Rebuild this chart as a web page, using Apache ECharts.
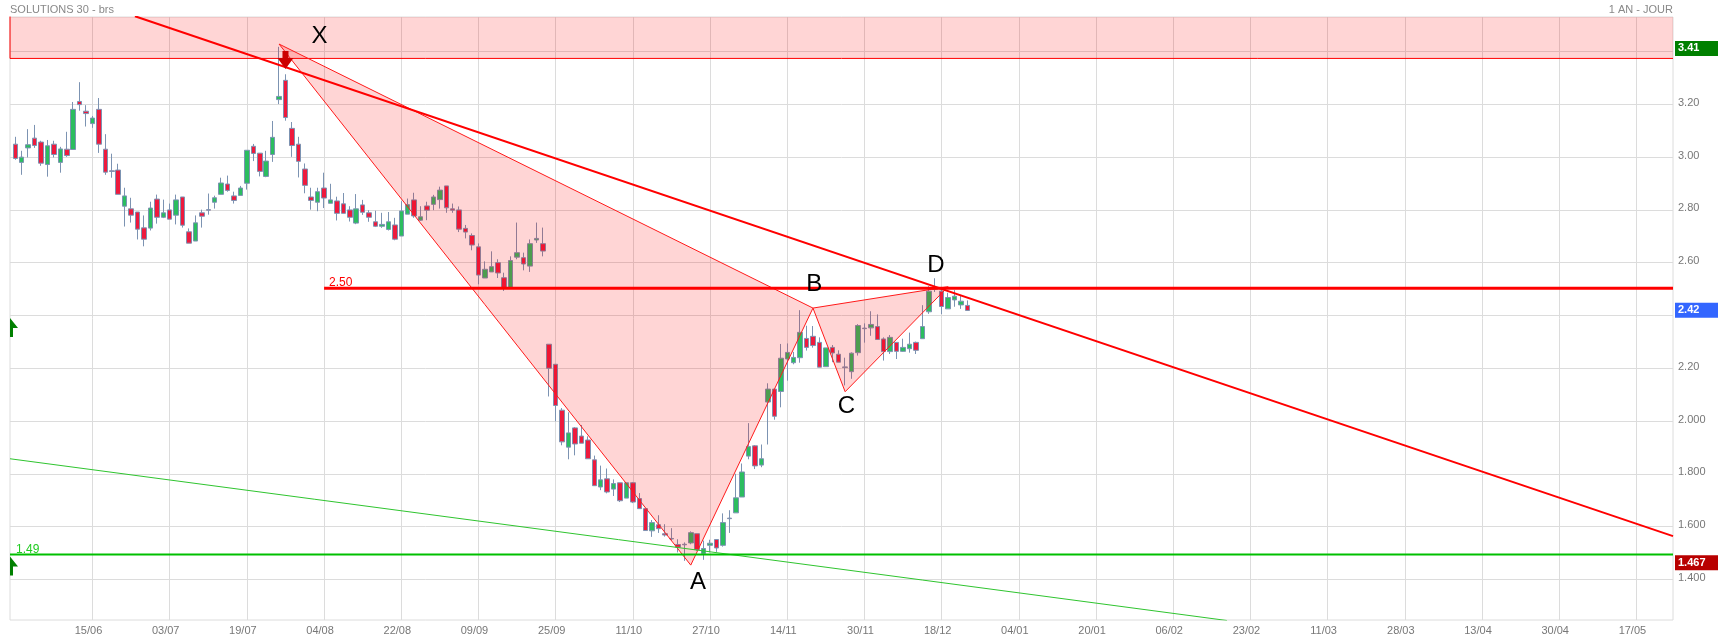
<!DOCTYPE html>
<html>
<head>
<meta charset="utf-8">
<style>html,body{margin:0;padding:0;background:#fff}#c{width:1718px;height:641px}</style>
<script src="https://cdn.jsdelivr.net/npm/echarts@6/dist/echarts.min.js"></script>
</head>
<body>
<div id="c"></div>
<script>
const opens = [3.049,2.980,3.035,3.072,3.057,2.972,3.049,2.980,3.030,3.029,
3.211,3.174,3.127,3.181,3.030,2.948,2.951,2.814,2.804,2.792,
2.732,2.731,2.841,2.772,2.800,2.780,2.849,2.717,2.682,2.789,
2.801,2.829,2.859,2.898,2.853,2.855,2.901,3.041,3.015,2.927,
3.010,3.218,3.291,3.109,3.049,2.955,2.849,2.829,2.883,2.825,
2.834,2.823,2.800,2.750,2.819,2.789,2.755,2.738,2.726,2.743,
2.701,2.784,2.838,2.761,2.815,2.821,2.839,2.891,2.804,2.800,
2.730,2.703,2.660,2.542,2.565,2.600,2.543,2.506,2.621,2.619,
2.587,2.686,2.672,2.291,2.215,2.041,1.901,1.974,1.943,1.928,
1.853,1.750,1.781,1.742,1.766,1.708,1.766,1.706,1.668,1.584,
1.607,1.573,1.555,1.532,1.533,1.538,1.573,1.498,1.529,1.551,
1.529,1.632,1.652,1.712,1.867,1.906,1.833,2.072,2.121,2.112,
2.235,2.221,2.240,2.313,2.321,2.298,2.206,2.279,2.253,2.205,
2.187,2.259,2.352,2.353,2.358,2.311,2.263,2.298,2.264,2.274,
2.298,2.312,2.414,2.504,2.492,2.425,2.459,2.440,2.438];
const closes = [2.995,3.000,3.047,3.044,2.977,3.043,3.010,3.031,3.006,3.181,
3.199,3.165,3.148,3.049,2.943,2.946,2.859,2.853,2.780,2.727,
2.689,2.807,2.772,2.789,2.765,2.838,2.742,2.674,2.751,2.776,
2.799,2.846,2.902,2.874,2.836,2.883,3.026,3.014,2.946,2.985,
3.075,3.230,3.150,3.044,2.984,2.893,2.836,2.869,2.845,2.838,
2.787,2.787,2.772,2.804,2.791,2.772,2.738,2.745,2.755,2.689,
2.796,2.820,2.777,2.774,2.799,2.849,2.875,2.808,2.799,2.727,
2.716,2.667,2.553,2.575,2.585,2.561,2.506,2.608,2.638,2.595,
2.672,2.692,2.644,2.200,2.059,1.921,1.955,1.913,1.916,1.857,
1.755,1.777,1.731,1.763,1.698,1.766,1.693,1.668,1.585,1.615,
1.592,1.568,1.553,1.522,1.531,1.577,1.513,1.517,1.537,1.519,
1.615,1.630,1.709,1.807,1.903,1.830,1.857,2.121,2.018,2.238,
2.260,2.241,2.336,2.279,2.286,2.204,2.277,2.258,2.223,2.203,
2.257,2.362,2.350,2.366,2.309,2.263,2.317,2.264,2.279,2.291,
2.268,2.358,2.492,2.499,2.434,2.468,2.473,2.454,2.419];
const lows = [2.990,2.933,2.999,3.035,2.967,2.926,2.999,2.941,3.001,3.029,
3.176,3.116,3.111,3.016,2.933,2.922,2.859,2.737,2.752,2.688,
2.662,2.722,2.748,2.769,2.765,2.745,2.733,2.674,2.682,2.733,
2.782,2.805,2.859,2.869,2.824,2.855,2.877,2.985,2.927,2.924,
2.982,3.201,3.138,3.001,2.923,2.863,2.801,2.795,2.807,2.825,
2.760,2.787,2.756,2.746,2.781,2.755,2.735,2.732,2.722,2.685,
2.701,2.784,2.770,2.758,2.761,2.799,2.805,2.789,2.789,2.716,
2.692,2.647,2.518,2.542,2.565,2.542,2.493,2.506,2.613,2.571,
2.565,2.675,2.624,2.093,1.999,1.908,1.855,1.870,1.916,1.857,
1.755,1.738,1.726,1.716,1.693,1.708,1.689,1.668,1.585,1.561,
1.576,1.562,1.547,1.502,1.470,1.533,1.508,1.474,1.502,1.504,
1.524,1.576,1.652,1.712,1.855,1.818,1.825,1.911,2.005,2.052,
2.153,2.215,2.221,2.267,2.278,2.204,2.206,2.223,2.223,2.135,
2.160,2.248,2.297,2.323,2.307,2.229,2.254,2.235,2.262,2.259,
2.254,2.312,2.406,2.489,2.405,2.425,2.433,2.425,2.419];
const highs = [3.077,3.024,3.106,3.122,3.062,3.065,3.062,3.039,3.096,3.209,
3.284,3.197,3.156,3.224,3.087,3.013,2.975,2.884,2.846,2.792,
2.779,2.831,2.858,2.839,2.824,2.858,2.849,2.730,2.779,2.801,
2.862,2.854,2.922,2.930,2.869,2.891,3.026,3.050,3.015,3.024,
3.137,3.418,3.314,3.133,3.077,2.976,2.884,2.884,2.941,2.899,
2.850,2.864,2.814,2.860,2.838,2.799,2.797,2.789,2.792,2.770,
2.833,2.843,2.865,2.814,2.831,2.857,2.888,2.891,2.824,2.813,
2.743,2.711,2.673,2.605,2.643,2.613,2.562,2.624,2.752,2.638,
2.688,2.752,2.733,2.291,2.215,2.049,2.033,1.977,1.985,1.942,
1.869,1.831,1.820,1.779,1.766,1.766,1.769,1.727,1.668,1.625,
1.643,1.609,1.594,1.552,1.540,1.582,1.573,1.547,1.550,1.551,
1.650,1.662,1.800,1.839,1.992,1.909,1.911,2.143,2.121,2.292,
2.294,2.262,2.420,2.361,2.360,2.317,2.277,2.288,2.268,2.240,
2.260,2.367,2.370,2.416,2.404,2.317,2.326,2.298,2.312,2.335,
2.301,2.439,2.511,2.541,2.508,2.486,2.496,2.477,2.457];

const dateLabels = ['15/06','03/07','19/07','04/08','22/08','09/09','25/09','11/10','27/10','14/11','30/11','18/12','04/01','20/01','06/02','23/02','11/03','28/03','13/04','30/04','17/05'];
const dateBars = [12,24,36,48,60,72,84,96,108,120,132,144,156,168,180,192,204,216,228,240,252];
const priceTicks = [1.4,1.6,1.8,2.0,2.2,2.4,2.6,2.8,3.0,3.2,3.4];

const xMin = -0.824, xMax = 257.69, yMin = 1.246, yMax = 3.531;

// Pattern X-A-B-C-D, as [bar, price]
const ptX = [41, 3.4285], ptA = [105, 1.454], ptB = [124, 2.428], ptC = [129, 2.111], ptD = [145, 2.509];
const triangleXAB = [ptX, ptA, ptB];
const triangleBCD = [ptB, ptC, ptD];
const resistanceBand = [[xMin, 3.374], [xMax, 3.374], [xMax, 3.6], [xMin, 3.6]];
const resistanceEdge = [[xMin, 3.6], [xMin, 3.374], [xMax, 3.374]];
const mainTrend = [[18.6, 3.534], [xMax, 1.564]];
const greenTrend = [[xMin, 1.857], [188.35, 1.244]];
const level250 = [[48, 2.503], [xMax, 2.503]];
const level149 = [[xMin, 1.494], [xMax, 1.494]];
const patternLabels = [['X', 47.29, 3.457], ['A', 106.13, 1.388], ['B', 124.2, 2.517], ['C', 129.2, 2.056], ['D', 143.1, 2.591]];
const priceTags = [['3.41', 3.41, '#008000', -0.5], ['2.42', 2.42, '#3366ff', 0], ['1.467', 1.467, '#b80000', 1]];
const greenArrows = [[xMin, 2.354], [xMin, 1.451]];
const redArrow = [[42, 3.368]];

const FONT = '"Liberation Sans", Arial, sans-serif';
const candleData = opens.map((o, i) => [i, o, closes[i], lows[i], highs[i]]);

function polygonSeries(points, z) {
  return {
    type: 'custom', coordinateSystem: 'cartesian2d', clip: true, silent: true, z,
    data: [points[0]],
    encode: { x: 0, y: 1 },
    renderItem: (params, api) => ({
      type: 'polygon',
      shape: { points: points.map(p => api.coord(p)) },
      style: { fill: 'rgba(255,0,0,0.165)', stroke: 'none' }
    })
  };
}
function lineSeries(points, color, width, z) {
  return {
    type: 'line', data: points, symbol: 'none', silent: true, z, clip: true,
    lineStyle: { color, width }, itemStyle: { color }
  };
}

const chart = echarts.init(document.getElementById('c'), null, { renderer: 'canvas' });
chart.setOption({
  animation: false,
  backgroundColor: '#fff',
  textStyle: { fontFamily: FONT },
  title: [
    { text: 'SOLUTIONS 30 - brs', left: 10, top: 4, padding: 0, textStyle: { color: '#888', fontSize: 11, fontWeight: 'normal', fontFamily: FONT } },
    { text: '1 AN - JOUR', right: 45, top: 4, padding: 0, textStyle: { color: '#888', fontSize: 11, fontWeight: 'normal', fontFamily: FONT } }
  ],
  grid: { left: 10, right: 45, top: 17, bottom: 21, show: true, borderColor: '#dcdcdc', borderWidth: 1, containLabel: false },
  xAxis: {
    type: 'value', min: xMin, max: xMax,
    axisLine: { show: false },
    axisTick: { show: false, customValues: dateBars },
    splitLine: { show: true, lineStyle: { color: '#dcdcdc', width: 1 } },
    axisLabel: {
      customValues: dateBars, margin: 5, color: '#777', fontSize: 11, fontFamily: FONT, padding: [0, 8, 0, 0],
      formatter: v => dateLabels[dateBars.indexOf(v)] || ''
    }
  },
  yAxis: {
    type: 'value', position: 'right', min: yMin, max: yMax,
    axisLine: { show: false },
    axisTick: { show: false, customValues: priceTicks },
    splitLine: { show: true, lineStyle: { color: '#dcdcdc', width: 1 } },
    axisLabel: {
      customValues: priceTicks, margin: 5, color: '#777', fontSize: 11, fontFamily: FONT,
      verticalAlign: 'bottom', lineHeight: 3,
      formatter: v => v <= 2.0 ? v.toFixed(3) : v.toFixed(2)
    }
  },
  series: [
    {
      type: 'candlestick', data: candleData, encode: { x: 0, y: [1, 2, 3, 4] }, barWidth: 5, z: 2, silent: true,
      itemStyle: { color: '#2bbd5f', color0: '#ee1a3d', borderColor: '#7c93b2', borderColor0: '#7c93b2', borderWidth: 1 }
    },
    polygonSeries(resistanceBand, 3),
    polygonSeries(triangleXAB, 3),
    polygonSeries(triangleBCD, 3),
    lineSeries(resistanceEdge, '#ff0000', 1, 4),
    lineSeries(triangleXAB.concat([triangleXAB[0]]), '#ff1a1a', 1, 4),
    lineSeries(triangleBCD.concat([triangleBCD[0]]), '#ff1a1a', 1, 4),
    lineSeries(greenTrend, '#2fc42f', 1, 4),
    lineSeries(level149, '#00c000', 2, 4),
    lineSeries(mainTrend, '#ff0000', 2, 5),
    lineSeries(level250, '#ff0000', 3, 5),
    {
      type: 'scatter', z: 6, silent: true, clip: false, data: redArrow,
      symbol: 'path://M5,0 L11,0 L11,7 L16,7 L8,18 L0,7 L5,7 Z', symbolSize: [16, 18], symbolKeepAspect: false,
      itemStyle: { color: '#cc0000', opacity: 1 }
    },
    {
      type: 'scatter', z: 6, silent: true, clip: false, data: greenArrows,
      symbol: 'path://M0,0 L8,10 L3,10 L3,19 L0,19 Z', symbolSize: [8, 19], symbolOffset: [4, 0],
      itemStyle: { color: '#008000', opacity: 1 }
    },
    {
      type: 'scatter', z: 7, silent: true, clip: false, symbolSize: 0, itemStyle: { opacity: 1 },
      data: patternLabels.map(l => ({ value: [l[1], l[2]], name: l[0] })),
      label: { show: true, position: 'inside', formatter: '{b}', color: '#000', opacity: 1, fontSize: 24, fontFamily: FONT }
    },
    {
      type: 'scatter', z: 7, silent: true, clip: false, symbolSize: 0, itemStyle: { opacity: 1 },
      data: [
        { value: level250[0], name: '2.50', label: { color: '#ff0000', offset: [5, -6] } },
        { value: level149[0], name: '1.49', label: { color: '#22cc22', offset: [6, -5] } }
      ],
      label: { show: true, position: 'right', distance: 0, formatter: '{b}', opacity: 1, fontSize: 12, fontFamily: FONT }
    },
    {
      type: 'scatter', z: 8, silent: true, clip: false, symbolSize: 0, itemStyle: { opacity: 1 },
      data: priceTags.map(t => ({
        value: [xMax, t[1]], name: t[0],
        label: { backgroundColor: t[2], offset: [0, t[3]] }
      })),
      label: {
        show: true, position: 'right', distance: 2, formatter: '{b}', color: '#fff', opacity: 1, fontSize: 11, fontWeight: 'bold',
        fontFamily: FONT, width: 40, height: 15, lineHeight: 15, padding: [0, 0, 0, 3], align: 'left', verticalAlign: 'middle'
      }
    }
  ]
});
</script>
</body>
</html>
